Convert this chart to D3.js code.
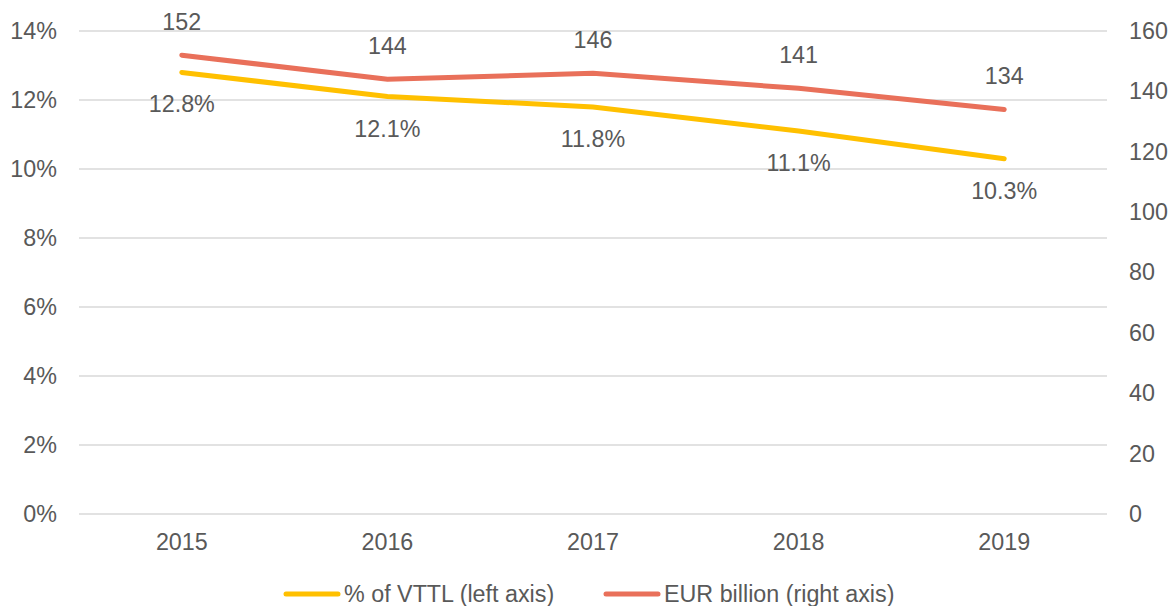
<!DOCTYPE html>
<html lang="en">
<head>
    <meta charset="UTF-8">
    <title>VTTL chart</title>
    <script type="text/javascript" src="https://cdn.jsdelivr.net/npm/d3@7"></script>
    <style type="text/css">
        body { margin: 0; background: white; }
        text { font-family: "Liberation Sans", Arial, sans-serif; fill: #595959; }
    </style>
</head>
<body>
    <script type="text/javascript">
        var years = ["2015", "2016", "2017", "2018", "2019"];
        var pctVttl = [12.8, 12.1, 11.8, 11.1, 10.3];
        var eurBillion = [152, 144, 146, 141, 134];
        var leftTicks = [0, 2, 4, 6, 8, 10, 12, 14];
        var rightTicks = [0, 20, 40, 60, 80, 100, 120, 140, 160];
        var legendLabels = ["% of VTTL (left axis)", "EUR billion (right axis)"];

        var width = 1171;
        var height = 606;
        var plotLeft = 79, plotRight = 1107, plotTop = 31, plotBottom = 514;
        var fontSize = '23.3px';
        var yellow = "#FFC000";
        var red = "#E9705A";

        var svg = d3.select('body')
            .append('svg')
            .attr('width', width)
            .attr('height', height);

        var x = d3.scaleBand()
            .domain(years)
            .range([plotLeft, plotRight]);
        var yLeft = d3.scaleLinear()
            .domain([0, 14])
            .range([plotBottom, plotTop]);
        var yRight = d3.scaleLinear()
            .domain([0, 160])
            .range([plotBottom, plotTop]);
        var cx = function(d) { return x(d) + x.bandwidth() / 2 };

        // gridlines
        svg.append('g')
            .selectAll('line')
            .data(leftTicks)
            .enter()
            .append('line')
            .attr('x1', plotLeft)
            .attr('x2', plotRight)
            .attr('y1', function(d) { return yLeft(d) })
            .attr('y2', function(d) { return yLeft(d) })
            .attr('stroke', '#d9d9d9')
            .attr('stroke-width', 1.5);

        var axisLeft = d3.axisLeft(yLeft)
            .tickValues(leftTicks)
            .tickSize(0)
            .tickPadding(22)
            .tickFormat(function(d) { return d + '%' });
        var axisRight = d3.axisRight(yRight)
            .tickValues(rightTicks)
            .tickSize(0)
            .tickPadding(22);
        var axisBottom = d3.axisBottom(x)
            .tickSize(0)
            .tickPadding(19);

        [[axisLeft, `translate(${plotLeft}, 0)`], [axisRight, `translate(${plotRight}, 0)`], [axisBottom, `translate(0, ${plotBottom})`]]
            .forEach(function(a) {
                var g = svg.append('g')
                    .attr('transform', a[1])
                    .call(a[0]);
                g.select('.domain').remove();
                g.selectAll('text')
                    .style('font-size', fontSize)
                    .attr('fill', '#595959')
                    .attr('font-family', '"Liberation Sans", Arial, sans-serif');
            });

        var lineLeft = d3.line()
            .x(function(d, i) { return cx(years[i]) })
            .y(function(d) { return yLeft(d) });
        var lineRight = d3.line()
            .x(function(d, i) { return cx(years[i]) })
            .y(function(d) { return yRight(d) });

        svg.append('path')
            .datum(pctVttl)
            .attr('d', lineLeft)
            .attr('fill', 'none')
            .attr('stroke', yellow)
            .attr('stroke-width', 5)
            .attr('stroke-linecap', 'round');
        svg.append('path')
            .datum(eurBillion)
            .attr('d', lineRight)
            .attr('fill', 'none')
            .attr('stroke', red)
            .attr('stroke-width', 5)
            .attr('stroke-linecap', 'round');

        // data labels
        svg.append('g')
            .selectAll('text')
            .data(pctVttl)
            .enter()
            .append('text')
            .attr('x', function(d, i) { return cx(years[i]) })
            .attr('y', function(d) { return yLeft(d) + 40 })
            .attr('text-anchor', 'middle')
            .style('font-size', fontSize)
            .text(function(d) { return d.toFixed(1) + '%' });
        svg.append('g')
            .selectAll('text')
            .data(eurBillion)
            .enter()
            .append('text')
            .attr('x', function(d, i) { return cx(years[i]) })
            .attr('y', function(d) { return yRight(d) - 25 })
            .attr('text-anchor', 'middle')
            .style('font-size', fontSize)
            .text(function(d) { return d });

        // legend
        var legendX = [284, 604];
        var legendColors = [yellow, red];
        var legend = svg.append('g');
        legendLabels.forEach(function(label, i) {
            legend.append('line')
                .attr('x1', legendX[i] + 2)
                .attr('x2', legendX[i] + 54)
                .attr('y1', 594)
                .attr('y2', 594)
                .attr('stroke', legendColors[i])
                .attr('stroke-width', 5)
                .attr('stroke-linecap', 'round');
            legend.append('text')
                .attr('x', legendX[i] + 60)
                .attr('y', 602)
                .style('font-size', fontSize)
                .text(label);
        });
    </script>
</body>
</html>
